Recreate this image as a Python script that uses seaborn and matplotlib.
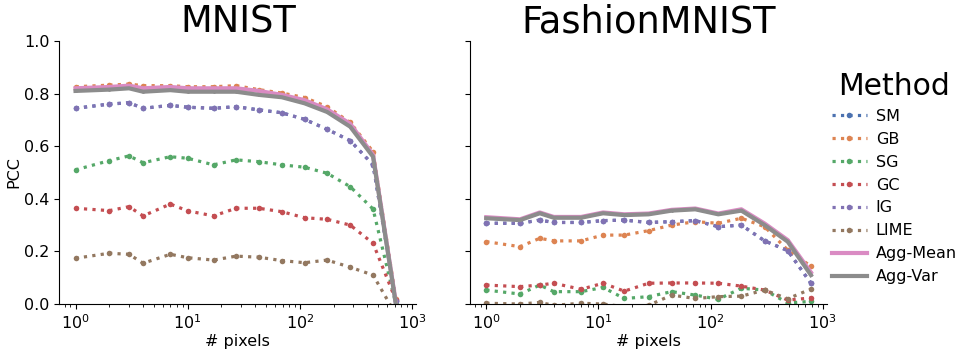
import matplotlib
matplotlib.use("Agg")
import matplotlib.pyplot as plt
import numpy as np
import pandas as pd
import seaborn as sns


METHODS = ["SM", "GB", "SG", "GC", "IG", "LIME", "Agg-Mean", "Agg-Var"]
COLORS = ["#4C72B0", "#DD8452", "#55A868", "#C44E52", "#8172B3", "#937860", "#DA8BC3", "#8C8C8C"]

# number of pixels kept
mnist_pixels = [1, 2, 3, 4, 7, 10, 17, 27, 43, 69, 110, 175, 281, 449, 717]
fashion_pixels = [1, 2, 3, 4, 7, 11, 17, 28, 45, 73, 117, 188, 303, 487, 784]

mnist_pcc = {
    "SM":       [0.744, 0.760, 0.765, 0.744, 0.755, 0.748, 0.744, 0.750, 0.738, 0.727, 0.702, 0.664, 0.621, 0.529, 0.010],
    "GB":       [0.826, 0.832, 0.836, 0.830, 0.830, 0.826, 0.826, 0.830, 0.815, 0.802, 0.785, 0.750, 0.690, 0.579, 0.020],
    "SG":       [0.510, 0.545, 0.563, 0.537, 0.560, 0.554, 0.529, 0.548, 0.541, 0.529, 0.520, 0.497, 0.446, 0.361, 0.000],
    "GC":       [0.364, 0.355, 0.370, 0.335, 0.380, 0.354, 0.335, 0.364, 0.364, 0.351, 0.328, 0.322, 0.300, 0.231, 0.015],
    "IG":       [0.744, 0.760, 0.765, 0.744, 0.755, 0.748, 0.744, 0.750, 0.738, 0.727, 0.702, 0.664, 0.621, 0.529, 0.010],
    "LIME":     [0.174, 0.193, 0.189, 0.155, 0.189, 0.176, 0.167, 0.182, 0.178, 0.165, 0.157, 0.167, 0.140, 0.110, -0.040],
    "Agg-Mean": [0.820, 0.825, 0.830, 0.820, 0.825, 0.820, 0.820, 0.820, 0.810, 0.795, 0.775, 0.740, 0.685, 0.567, 0.005],
    "Agg-Var":  [0.810, 0.815, 0.820, 0.807, 0.813, 0.807, 0.807, 0.807, 0.795, 0.786, 0.763, 0.730, 0.674, 0.560, 0.000],
}

fashion_pcc = {
    "SM":       [0.307, 0.307, 0.319, 0.310, 0.310, 0.317, 0.319, 0.310, 0.313, 0.317, 0.294, 0.300, 0.240, 0.203, 0.079],
    "GB":       [0.237, 0.218, 0.250, 0.240, 0.240, 0.262, 0.262, 0.279, 0.300, 0.313, 0.307, 0.326, 0.294, 0.205, 0.144],
    "SG":       [0.053, 0.038, 0.072, 0.047, 0.047, 0.063, 0.021, 0.028, 0.047, 0.034, 0.018, 0.060, 0.053, 0.004, 0.010],
    "GC":       [0.072, 0.066, 0.072, 0.079, 0.056, 0.079, 0.049, 0.079, 0.080, 0.080, 0.079, 0.068, 0.053, 0.015, 0.023],
    "IG":       [0.307, 0.307, 0.319, 0.310, 0.310, 0.317, 0.319, 0.310, 0.313, 0.317, 0.294, 0.300, 0.240, 0.203, 0.079],
    "LIME":     [0.003, 0.000, 0.006, -0.005, 0.003, 0.000, -0.010, -0.005, 0.034, 0.021, 0.028, 0.030, 0.053, 0.020, 0.057],
    "Agg-Mean": [0.330, 0.322, 0.348, 0.331, 0.331, 0.348, 0.341, 0.344, 0.358, 0.363, 0.344, 0.360, 0.306, 0.243, 0.120],
    "Agg-Var":  [0.326, 0.319, 0.345, 0.328, 0.328, 0.345, 0.338, 0.341, 0.355, 0.360, 0.341, 0.355, 0.300, 0.237, 0.110],
}


def to_frame(pixels, pcc):
    rows = []
    for m in METHODS:
        for x, y in zip(pixels, pcc[m]):
            rows.append({"# pixels": x, "PCC": y, "Method": m})
    return pd.DataFrame(rows)


plt.rcParams["font.family"] = ["DejaVu Sans"]

palette = dict(zip(METHODS, COLORS))
single = METHODS[:6]
agg = METHODS[6:]

fig, axes = plt.subplots(1, 2, figsize=(9.72, 3.56), dpi=100, sharex=True, sharey=True)
fig.subplots_adjust(left=0.061, right=0.851, bottom=0.146, top=0.885, wspace=0.15)

for ax, title, pixels, pcc in [
    (axes[0], "MNIST", mnist_pixels, mnist_pcc),
    (axes[1], "FashionMNIST", fashion_pixels, fashion_pcc),
]:
    df = to_frame(pixels, pcc)
    sns.lineplot(
        data=df[df["Method"].isin(single)], x="# pixels", y="PCC", hue="Method",
        hue_order=single, palette=palette, style="Method", style_order=single,
        dashes={m: (1, 1.65) for m in single}, markers={m: "o" for m in single},
        linewidth=2.3, markersize=4, mew=0, ax=ax,
    )
    sns.lineplot(
        data=df[df["Method"].isin(agg)], x="# pixels", y="PCC", hue="Method",
        hue_order=agg, palette=palette, style="Method", style_order=agg,
        dashes={m: "" for m in agg}, markers={m: "o" for m in agg},
        linewidth=3.0, markersize=2, mew=0, ax=ax,
    )
    ax.set_xscale("log")
    ax.set_ylim(0, 1.0)
    ax.set_yticks(np.arange(0, 1.01, 0.2))
    ax.set_title(title, fontsize=26.5, pad=3)
    ax.set_xlabel("# pixels", fontsize=11.5, labelpad=1)
    ax.set_ylabel("PCC", fontsize=11.5, labelpad=2)
    ax.tick_params(labelsize=11.5)
    sns.despine(ax=ax)

handles, labels = axes[0].get_legend_handles_labels()
for ax in axes:
    ax.get_legend().remove()

leg = fig.legend(
    handles, labels, title="Method", loc="center left", bbox_to_anchor=(0.841, 0.5),
    frameon=False, fontsize=11.5, title_fontsize=21.5, handlelength=2.2,
    handletextpad=0.55, labelspacing=0.5,
)

fig.savefig("out.png", dpi=100)
plt.close(fig)
